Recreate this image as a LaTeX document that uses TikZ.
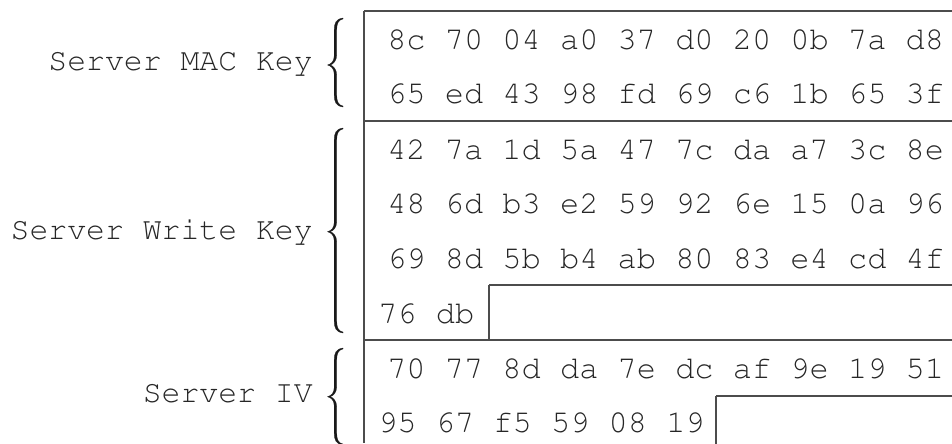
\documentclass[tikz,border=0pt]{standalone}
\usepackage[T1]{fontenc}
\renewcommand{\ttdefault}{pcr}
\begin{document}
\begin{tikzpicture}[x=0.75pt,y=-0.75pt,
  hex/.style={anchor=base west,inner sep=0pt,font=\ttfamily\fontsize{24}{26}\selectfont,text=black!85},
  lbl/.style={anchor=base east,inner sep=0pt,font=\ttfamily\fontsize{23.6}{26}\selectfont,text=black!85},
  rule/.style={draw=black!70,line width=0.9pt},
  brc/.style={fill=black!90,draw=black!90,line width=0.2pt}]
\newcommand\mybrace[3]{%
  \filldraw[brc] (343,#1) .. controls (336,#1+1) and (334.2,#1+5) .. (334.2,#1+12)
    -- (334.2,#2-9) .. controls (334.2,#2-4) and (331.5,#2-1) .. (327.5,#2)
    .. controls (331.5,#2+1) and (334.2,#2+4) .. (334.2,#2+9)
    -- (334.2,#3-12) .. controls (334.2,#3-5) and (336,#3-1) .. (343,#3)
    -- (343,#3-0.9) .. controls (338,#3-2) and (336.7,#3-6) .. (336.7,#3-12)
    -- (336.7,#2+10) .. controls (336.7,#2+4) and (333,#2+0.8) .. (330.2,#2)
    .. controls (333,#2-0.8) and (336.7,#2-4) .. (336.7,#2-10)
    -- (336.7,#1+12) .. controls (336.7,#1+6) and (338,#1+2) .. (343,#1+0.9) -- cycle;}
\useasboundingbox (0,0) rectangle (952,443);
% grid lines
\coordinate (tl) at (364,11);
\coordinate (bl) at (364,443);
\draw[rule] (tl) -- (bl);
\draw[rule] (364,11) -- (960,11);
\draw[rule] (364,121) -- (960,121);
\draw[rule] (489,285) -- (960,285);
\draw[rule] (489,285) -- (489,340);
\draw[rule] (364,340) -- (960,340);
\draw[rule] (716,396) -- (960,396);
\draw[rule] (716,396) -- (716,450);
% hex rows
\node[hex] (r1) at (387,49) {8c 70 04 a0 37 d0 20 0b 7a d8};
\node[hex] (r2) at (387,103) {65 ed 43 98 fd 69 c6 1b 65 3f};
\node[hex] (r3) at (387,159) {42 7a 1d 5a 47 7c da a7 3c 8e};
\node[hex] (r4) at (387,213) {48 6d b3 e2 59 92 6e 15 0a 96};
\node[hex] (r5) at (387,268) {69 8d 5b b4 ab 80 83 e4 cd 4f};
\node[hex] (r6) at (378,323) {76 db};
\node[hex] (r7) at (387,378) {70 77 8d da 7e dc af 9e 19 51};
\node[hex] (r8) at (378,432) {95 67 f5 59 08 19};
% braces
\mybrace{18}{65}{107}
\mybrace{128}{231.7}{333}
\mybrace{348}{396.7}{445}
% labels
\node[lbl] (lm) at (313,70) {Server MAC Key};
\node[lbl] (lw) at (313,239) {Server Write Key};
\node[lbl] (li) at (313,402) {Server IV};
\end{tikzpicture}
\end{document}
